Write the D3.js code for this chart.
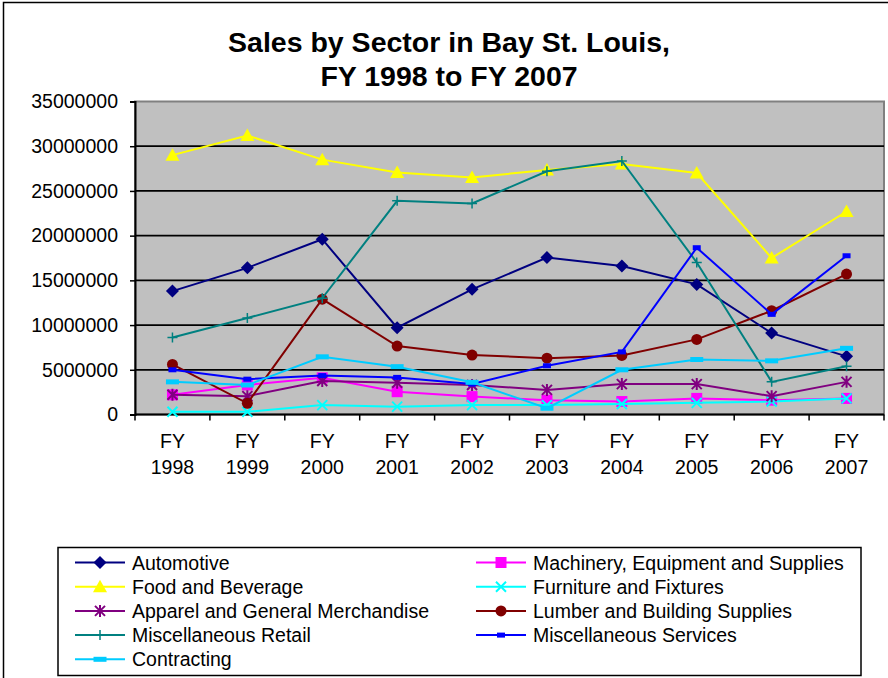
<!DOCTYPE html>
<html>
<head>
<meta charset="utf-8">
<script src="https://cdn.jsdelivr.net/npm/d3@7"></script>
<style>
  html, body { margin: 0; padding: 0; background: #fff; }
  svg { display: block; }
  text { font-family: Arial, "Liberation Sans", sans-serif; fill: #000; }
</style>
</head>
<body>
<svg id="chart" width="888" height="678"></svg>
<script>
// fiscal years on the x axis
const years = ['1998', '1999', '2000', '2001', '2002', '2003', '2004', '2005', '2006', '2007'];
const yTicks = [0, 5000000, 10000000, 15000000, 20000000, 25000000, 30000000, 35000000];

// sales per sector (dollars)
const automotive   = [13800000, 16400000, 19600000, 9700000, 14000000, 17550000, 16600000, 14550000, 9100000, 6500000];
const machinery    = [2200000, 3300000, 4100000, 2550000, 2000000, 1600000, 1450000, 1800000, 1600000, 1800000];
const food         = [29000000, 31200000, 28500000, 27050000, 26500000, 27350000, 28000000, 27000000, 17500000, 22700000];
const furniture    = [300000, 300000, 1050000, 880000, 1050000, 1050000, 1170000, 1300000, 1450000, 1800000];
const apparel      = [2200000, 2050000, 3750000, 3550000, 3300000, 2750000, 3400000, 3400000, 2050000, 3650000];
const lumber       = [5600000, 1250000, 12900000, 7650000, 6650000, 6300000, 6600000, 8400000, 11600000, 15700000];
const miscRetail   = [8600000, 10800000, 13000000, 23900000, 23600000, 27200000, 28350000, 17000000, 3650000, 5400000];
const miscServices = [5000000, 3950000, 4350000, 4150000, 3400000, 5450000, 7000000, 18650000, 11200000, 17750000];
const contracting  = [3650000, 3300000, 6450000, 5350000, 3600000, 700000, 5000000, 6150000, 6000000, 7400000];

const series = [
  {name: 'Automotive', values: automotive, color: '#000080', marker: 'diamond'},
  {name: 'Machinery, Equipment and Supplies', values: machinery, color: '#FF00FF', marker: 'square'},
  {name: 'Food and Beverage', values: food, color: '#FFFF00', marker: 'triangle'},
  {name: 'Furniture and Fixtures', values: furniture, color: '#00FFFF', marker: 'x'},
  {name: 'Apparel and General Merchandise', values: apparel, color: '#800080', marker: 'star'},
  {name: 'Lumber and Building Supplies', values: lumber, color: '#800000', marker: 'circle'},
  {name: 'Miscellaneous Retail', values: miscRetail, color: '#008080', marker: 'plus'},
  {name: 'Miscellaneous Services', values: miscServices, color: '#0000FF', marker: 'dash'},
  {name: 'Contracting', values: contracting, color: '#00CCFF', marker: 'longdash'},
];

const svg = d3.select('#chart');

// chart area border (right / bottom fall outside the picture)
svg.append('rect')
  .attr('x', 3.5).attr('y', 2.5)
  .attr('width', 900).attr('height', 700)
  .attr('fill', '#fff').attr('stroke', '#000').attr('stroke-width', 1.5);

const plot = {left: 135, right: 884, top: 101.5, bottom: 414.5};

const x = d3.scaleBand()
  .domain(years)
  .range([plot.left, plot.right])
  .paddingInner(0).paddingOuter(0);
const cx = (d) => x(d) + x.bandwidth() / 2;

const y = d3.scaleLinear()
  .domain([0, 35000000])
  .range([plot.bottom, plot.top]);

// title
const title = svg.append('text')
  .attr('text-anchor', 'middle')
  .style('font-size', '28.5px')
  .style('font-weight', 'bold');
title.append('tspan').attr('x', 449).attr('y', 52).text('Sales by Sector in Bay St. Louis,');
title.append('tspan').attr('x', 449).attr('y', 86).text('FY 1998 to FY 2007');

// plot area
svg.append('rect')
  .attr('x', plot.left).attr('y', plot.top)
  .attr('width', plot.right - plot.left).attr('height', plot.bottom - plot.top)
  .attr('fill', '#C0C0C0')
  .attr('stroke', '#808080').attr('stroke-width', 2);

// gridlines
svg.append('g')
  .selectAll('line')
  .data(yTicks.filter((t) => t > 0 && t < 35000000))
  .enter().append('line')
  .attr('x1', plot.left).attr('x2', plot.right)
  .attr('y1', (d) => y(d)).attr('y2', (d) => y(d))
  .attr('stroke', '#000').attr('stroke-width', 1.8);

// y axis
const yAxis = svg.append('g')
  .attr('transform', 'translate(' + plot.left + ',0)')
  .call(d3.axisLeft(y).tickValues(yTicks).tickSize(5).tickPadding(12).tickFormat(d3.format('d')));
yAxis.select('.domain').attr('stroke', '#000').attr('stroke-width', 2);
yAxis.selectAll('.tick line').attr('stroke', '#000').attr('stroke-width', 1.5);
yAxis.selectAll('.tick text')
  .style('font-size', '19.5px')
  .style('font-family', 'Arial, "Liberation Sans", sans-serif')
  .attr('fill', '#000');

// x axis: ticks between categories, labels under centres
const xAxis = svg.append('g');
xAxis.append('line')
  .attr('x1', plot.left).attr('x2', plot.right)
  .attr('y1', plot.bottom).attr('y2', plot.bottom)
  .attr('stroke', '#000').attr('stroke-width', 2);
xAxis.selectAll('.xtick')
  .data(years.map((d) => x(d)).concat([x.range()[1]]))
  .enter().append('line')
  .attr('class', 'xtick')
  .attr('x1', (d) => d).attr('x2', (d) => d)
  .attr('y1', plot.bottom).attr('y2', plot.bottom + 6)
  .attr('stroke', '#000').attr('stroke-width', 1.5);
const xl = xAxis.selectAll('.xlabel')
  .data(years)
  .enter().append('text')
  .attr('class', 'xlabel')
  .attr('text-anchor', 'middle')
  .style('font-size', '19.5px');
xl.append('tspan').attr('x', cx).attr('y', 448).text('FY');
xl.append('tspan').attr('x', cx).attr('y', 474).text((d) => d);

// marker drawing
function drawMarker(g, type, color, px, py) {
  switch (type) {
    case 'diamond':
      g.append('path')
        .attr('d', 'M' + px + ',' + (py - 6.5) + 'L' + (px + 6.5) + ',' + py + 'L' + px + ',' + (py + 6.5) + 'L' + (px - 6.5) + ',' + py + 'Z')
        .attr('fill', color);
      break;
    case 'square':
      g.append('rect').attr('x', px - 5.5).attr('y', py - 5.5).attr('width', 11).attr('height', 11).attr('fill', color);
      break;
    case 'triangle':
      g.append('path')
        .attr('d', 'M' + px + ',' + (py - 7) + 'L' + (px + 7) + ',' + (py + 5.5) + 'L' + (px - 7) + ',' + (py + 5.5) + 'Z')
        .attr('fill', color);
      break;
    case 'circle':
      g.append('circle').attr('cx', px).attr('cy', py).attr('r', 5.5).attr('fill', color);
      break;
    case 'x':
      g.append('path')
        .attr('d', 'M' + (px - 5) + ',' + (py - 5) + 'L' + (px + 5) + ',' + (py + 5) + 'M' + (px + 5) + ',' + (py - 5) + 'L' + (px - 5) + ',' + (py + 5))
        .attr('stroke', color).attr('stroke-width', 2);
      break;
    case 'star':
      g.append('path')
        .attr('d', 'M' + (px - 5) + ',' + (py - 5) + 'L' + (px + 5) + ',' + (py + 5) + 'M' + (px + 5) + ',' + (py - 5) + 'L' + (px - 5) + ',' + (py + 5) +
          'M' + px + ',' + (py - 6) + 'L' + px + ',' + (py + 6))
        .attr('stroke', color).attr('stroke-width', 2);
      break;
    case 'plus':
      g.append('path')
        .attr('d', 'M' + (px - 5) + ',' + py + 'L' + (px + 5) + ',' + py + 'M' + px + ',' + (py - 5) + 'L' + px + ',' + (py + 5))
        .attr('stroke', color).attr('stroke-width', 1.5);
      break;
    case 'dash':
      g.append('rect').attr('x', px - 4).attr('y', py - 2.5).attr('width', 8).attr('height', 5).attr('fill', color);
      break;
    case 'longdash':
      g.append('rect').attr('x', px - 6.5).attr('y', py - 2.5).attr('width', 13).attr('height', 5).attr('fill', color);
      break;
  }
}

// lines and markers
const line = d3.line()
  .x((d, i) => cx(years[i]))
  .y((d) => y(d));

series.forEach((s) => {
  const g = svg.append('g').attr('class', 'series');
  g.append('path')
    .datum(s.values)
    .attr('d', line)
    .attr('fill', 'none')
    .attr('stroke', s.color)
    .attr('stroke-width', 2);
  s.values.forEach((v, i) => drawMarker(g, s.marker, s.color, cx(years[i]), y(v)));
});

// legend
const legend = svg.append('g');
legend.append('rect')
  .attr('x', 58).attr('y', 547.5)
  .attr('width', 803).attr('height', 128)
  .attr('fill', '#fff').attr('stroke', '#000').attr('stroke-width', 1.5);

const legendOrder = [0, 1, 2, 3, 4, 5, 6, 7, 8];
legendOrder.forEach((idx, k) => {
  const s = series[idx];
  const col = k % 2;
  const row = Math.floor(k / 2);
  const lx = col === 0 ? 75 : 476;
  const ly = 562.5 + row * 24.2;
  const g = legend.append('g');
  g.append('line')
    .attr('x1', lx).attr('x2', lx + 50)
    .attr('y1', ly).attr('y2', ly)
    .attr('stroke', s.color).attr('stroke-width', 2);
  drawMarker(g, s.marker, s.color, lx + 25, ly);
  g.append('text')
    .attr('x', lx + 57).attr('y', ly + 7)
    .style('font-size', '19.5px')
    .text(s.name);
});
</script>
</body>
</html>
